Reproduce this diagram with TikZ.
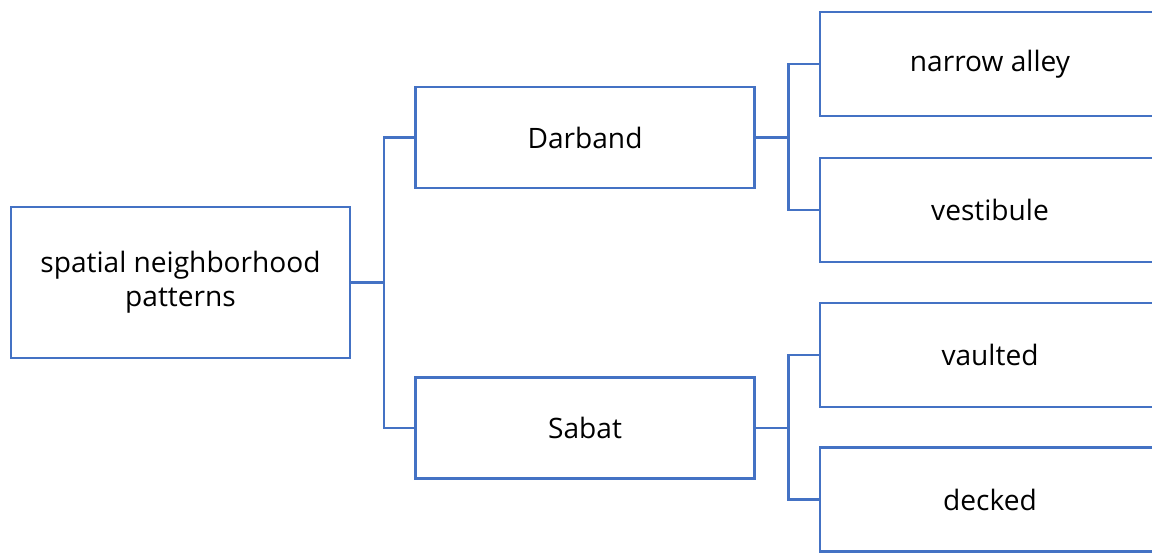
\documentclass[tikz,border=0pt]{standalone}
\usepackage{fontspec}
\setmainfont{Open Sans}
\definecolor{boxblue}{HTML}{4472C4}
\tikzset{
  box/.style={draw=boxblue, line width=1.2pt, minimum width=6.78cm, minimum height=2.02cm,
    align=center, inner sep=0pt, font=\fontsize{16}{19.3}\selectfont},
  leaf/.style={box, minimum width=6.8cm, minimum height=2.08cm},
  link/.style={draw=boxblue, line width=1.2pt},
}
\begin{document}
\begin{tikzpicture}[x=0.02cm,y=-0.02cm]
    \useasboundingbox (0,0) rectangle (1152,552);
    \clip (0,0) rectangle (1152,552);

    \node[box, minimum height=3.02cm] (root) at (180.5,282.5){spatial neighborhood\\patterns};

    \node[box] (darband) at (585,137.5){Darband};
    \node[box] (sabat) at (585,428){Sabat};

    \node[leaf] (alley) at (990,64){narrow alley};
    \node[leaf] (vestibule) at (990,210){vestibule};
    \node[leaf] (vaulted) at (990,355){vaulted};
    \node[leaf] (decked) at (990,499.5){decked};

    \draw[link] (root.east) -- ++(33,0) |- (darband.west);
    \draw[link] (root.east) -- ++(33,0) |- (sabat.west);

    \draw[link] (darband.east) -- ++(33,0) |- (alley.west);
    \draw[link] (darband.east) -- ++(33,0) |- (vestibule.west);

    \draw[link] (sabat.east) -- ++(33,0) |- (vaulted.west);
    \draw[link] (sabat.east) -- ++(33,0) |- (decked.west);
  \end{tikzpicture}
\end{document}
